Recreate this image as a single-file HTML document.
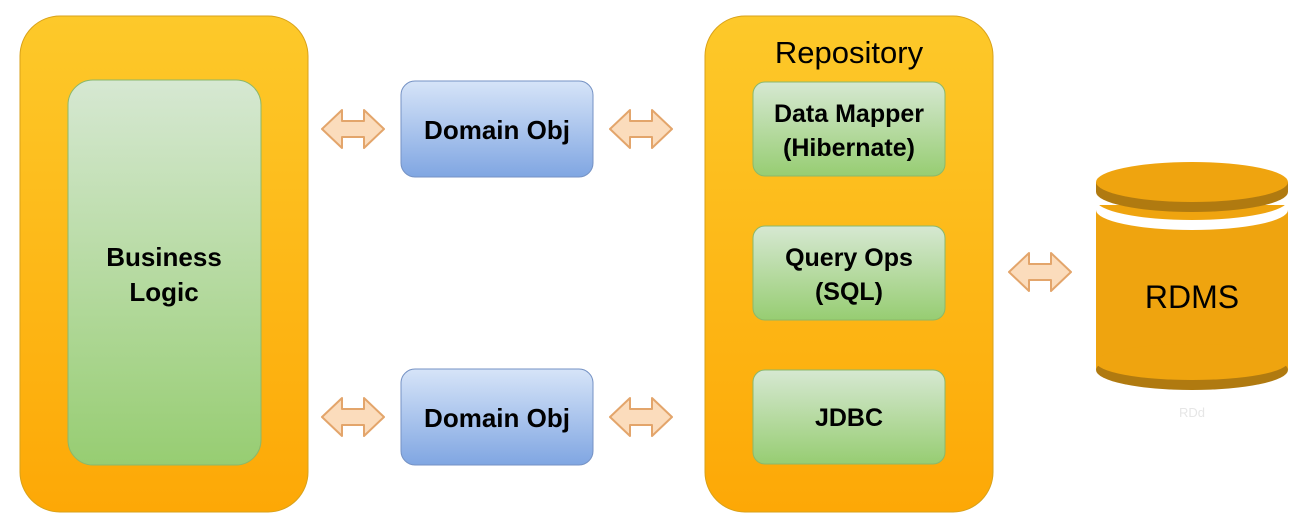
<!DOCTYPE html>
<html><head><meta charset="utf-8"><style>
html,body{margin:0;padding:0;background:#fff;}
svg{display:block;}
text{font-family:"Liberation Sans",Arial,sans-serif;}
</style></head><body>
<svg width="1305" height="516" viewBox="0 0 1305 516" xmlns="http://www.w3.org/2000/svg">
<defs>
<linearGradient id="og" x1="0" y1="0" x2="0" y2="1"><stop offset="0" stop-color="#fdc92a"/><stop offset="1" stop-color="#fda806"/></linearGradient>
<linearGradient id="gg" x1="0" y1="0" x2="0" y2="1"><stop offset="0" stop-color="#d6e8d2"/><stop offset="1" stop-color="#97cd72"/></linearGradient>
<linearGradient id="bg" x1="0" y1="0" x2="0" y2="1"><stop offset="0" stop-color="#d6e4f8"/><stop offset="1" stop-color="#80a6e2"/></linearGradient>
<path id="arr" d="M-31,0 L-11,-19 L-11,-8 L11,-8 L11,-19 L31,0 L11,19 L11,8 L-11,8 L-11,19 Z" fill="#fbdcbc" stroke="#e3a56b" stroke-width="2" stroke-linejoin="round"/>
</defs>
<rect x="20" y="16" width="288" height="496" rx="40" fill="url(#og)" stroke="#d9a21a"/>
<rect x="68" y="80" width="193" height="385" rx="25" fill="url(#gg)" stroke="#8bb86a"/>
<text x="164" y="266" text-anchor="middle" font-size="26" font-weight="bold">Business</text>
<text x="164" y="301" text-anchor="middle" font-size="26" font-weight="bold">Logic</text>

<rect x="401" y="81" width="192" height="96" rx="14" fill="url(#bg)" stroke="#7592c4"/>
<text x="497" y="139" text-anchor="middle" font-size="26" font-weight="bold">Domain Obj</text>
<rect x="401" y="369" width="192" height="96" rx="14" fill="url(#bg)" stroke="#7592c4"/>
<text x="497" y="427" text-anchor="middle" font-size="26" font-weight="bold">Domain Obj</text>

<use href="#arr" x="353" y="129"/>
<use href="#arr" x="641" y="129"/>
<use href="#arr" x="353" y="417"/>
<use href="#arr" x="641" y="417"/>
<use href="#arr" x="1040" y="272"/>

<rect x="705" y="16" width="288" height="496" rx="40" fill="url(#og)" stroke="#d9a21a"/>
<text x="849" y="63" text-anchor="middle" font-size="31">Repository</text>
<rect x="753" y="82" width="192" height="94" rx="12" fill="url(#gg)" stroke="#8bb86a"/>
<text x="849" y="122" text-anchor="middle" font-size="25" font-weight="bold">Data Mapper</text>
<text x="849" y="156" text-anchor="middle" font-size="25" font-weight="bold">(Hibernate)</text>
<rect x="753" y="226" width="192" height="94" rx="12" fill="url(#gg)" stroke="#8bb86a"/>
<text x="849" y="266" text-anchor="middle" font-size="25" font-weight="bold">Query Ops</text>
<text x="849" y="300" text-anchor="middle" font-size="25" font-weight="bold">(SQL)</text>
<rect x="753" y="370" width="192" height="94" rx="12" fill="url(#gg)" stroke="#8bb86a"/>
<text x="849" y="426" text-anchor="middle" font-size="25" font-weight="bold">JDBC</text>

<!-- cylinder -->
<rect x="1096" y="205" width="192" height="165" fill="#efa40f"/>
<ellipse cx="1192" cy="370" rx="96" ry="20" fill="#b07a10"/>
<rect x="1096" y="205" width="192" height="160" fill="#efa40f"/>
<ellipse cx="1192" cy="362" rx="96" ry="18" fill="#efa40f"/>
<path d="M1096,200 A96,20 0 0 0 1288,200 L1288,210 A96,20 0 0 1 1096,210 Z" fill="#fff"/>
<path d="M1096,182 L1096,192 A96,20 0 0 0 1288,192 L1288,182 Z" fill="#b07a10"/>
<ellipse cx="1192" cy="182" rx="96" ry="20" fill="#efa40f"/>
<rect x="1096" y="196" width="192" height="0" fill="none"/>
<text x="1192" y="308" text-anchor="middle" font-size="32">RDMS</text>
<text x="1192" y="417" text-anchor="middle" font-size="13" fill="#e6e6e6">RDd</text>
</svg>
</body></html>
